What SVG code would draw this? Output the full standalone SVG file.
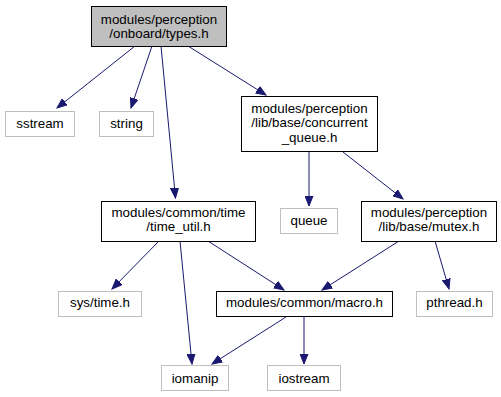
<svg xmlns="http://www.w3.org/2000/svg" width="501" height="397" viewBox="0 0 501 397">
  <style>
    text { font-family: "Liberation Sans", Arial, sans-serif; font-size: 13.33px; text-anchor: middle; fill: #000; }
    .doc rect { fill: #fff; stroke: #000; stroke-width: 1; }
    .root rect { fill: #bfbfbf; stroke: #000; stroke-width: 1; }
    .ext rect { fill: #fff; stroke: #bfbfbf; stroke-width: 1; }
    #edges path { fill: none; stroke: #191970; stroke-width: 1; marker-end: url(#arrow); }
  </style>
  <defs>
    <marker id="arrow" markerUnits="userSpaceOnUse" markerWidth="11" markerHeight="9" refX="10" refY="4.5" orient="auto">
      <polygon points="0,0.5 10,4.5 0,8.5" fill="#191970" stroke="#191970"/>
    </marker>
  </defs>
  <rect width="501" height="397" fill="#fff"/>

  <g id="edges">
    <path d="M135,46 L57,108"/>
    <path d="M152,46 L131,108"/>
    <path d="M161,46 L175.5,198"/>
    <path d="M188,46 L266,95"/>
    <path d="M309,152 L309,206"/>
    <path d="M343,152 L403,199"/>
    <path d="M159,241 L112,289"/>
    <path d="M180,241 L192,364"/>
    <path d="M208,241 L284,290"/>
    <path d="M399,241 L322,290"/>
    <path d="M435,241 L449,289"/>
    <path d="M286,317 L212,364"/>
    <path d="M304,317 L304,364"/>
  </g>

  <g id="node-types" class="root">
    <rect x="91.5" y="6.5" width="135" height="40"/>
    <text x="159" y="23.5">modules/perception</text>
    <text x="159" y="37.5">/onboard/types.h</text>
  </g>
  <g id="node-sstream" class="ext">
    <rect x="5.5" y="111.5" width="69" height="25"/>
    <text x="40" y="127.5">sstream</text>
  </g>
  <g id="node-string" class="ext">
    <rect x="99.5" y="111.5" width="54" height="25"/>
    <text x="126.5" y="127.5">string</text>
  </g>
  <g id="node-concurrent-queue" class="doc">
    <rect x="241.5" y="96.5" width="136" height="55"/>
    <text x="309.5" y="112.5">modules/perception</text>
    <text x="309.5" y="127">/lib/base/concurrent</text>
    <text x="309.5" y="141.5">_queue.h</text>
  </g>
  <g id="node-time-util" class="doc">
    <rect x="101.5" y="201.5" width="154" height="40"/>
    <text x="178.5" y="216.5">modules/common/time</text>
    <text x="178.5" y="231">/time_util.h</text>
  </g>
  <g id="node-queue" class="ext">
    <rect x="280.5" y="208.5" width="57" height="25"/>
    <text x="309" y="224.5">queue</text>
  </g>
  <g id="node-mutex" class="doc">
    <rect x="361.5" y="201.5" width="135" height="40"/>
    <text x="429" y="216.5">modules/perception</text>
    <text x="429" y="231">/lib/base/mutex.h</text>
  </g>
  <g id="node-sys-time" class="ext">
    <rect x="58.5" y="291.5" width="83" height="25"/>
    <text x="100" y="307">sys/time.h</text>
  </g>
  <g id="node-macro" class="doc">
    <rect x="216.5" y="291.5" width="176" height="25"/>
    <text x="304.5" y="307">modules/common/macro.h</text>
  </g>
  <g id="node-pthread" class="ext">
    <rect x="416.5" y="291.5" width="76" height="25"/>
    <text x="454.5" y="307">pthread.h</text>
  </g>
  <g id="node-iomanip" class="ext">
    <rect x="161.5" y="365.5" width="67" height="25"/>
    <text x="195" y="382.5">iomanip</text>
  </g>
  <g id="node-iostream" class="ext">
    <rect x="267.5" y="365.5" width="73" height="25"/>
    <text x="304" y="382.5">iostream</text>
  </g>
</svg>
